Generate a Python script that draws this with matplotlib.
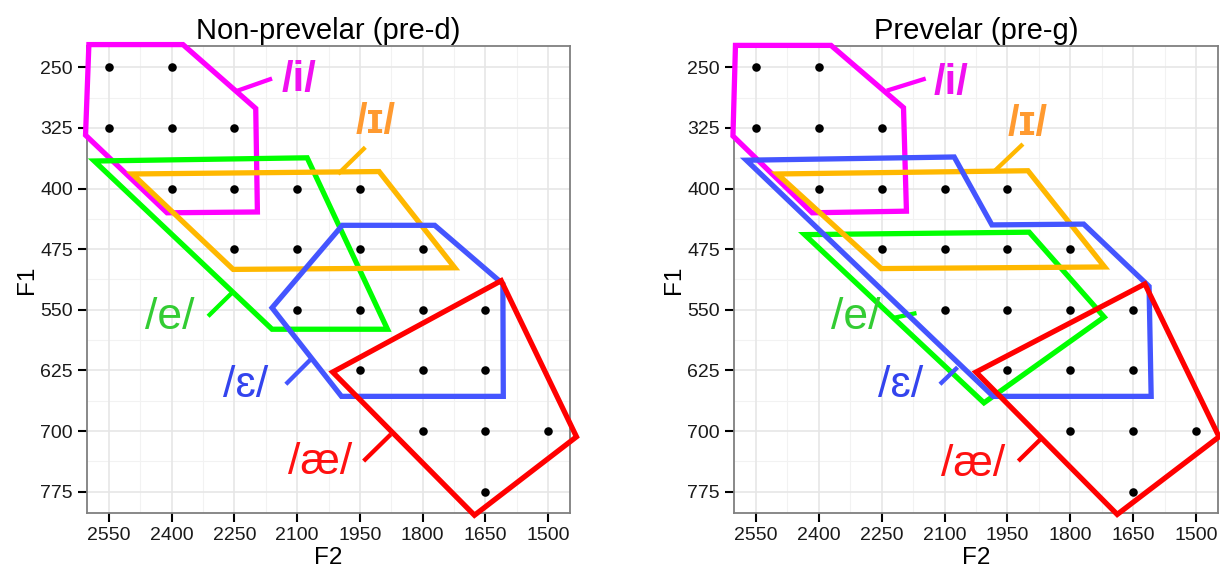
import matplotlib
matplotlib.use("Agg")
import matplotlib.pyplot as plt
from matplotlib.patches import Polygon

plt.rcParams['font.family'] = ['Liberation Sans', 'DejaVu Sans']

# ---------------- data ----------------
f2_ticks = [2550, 2400, 2250, 2100, 1950, 1800, 1650, 1500]
f1_ticks = [250, 325, 400, 475, 550, 625, 700, 775]

dot_f2 = [2550, 2400,
          2550, 2400, 2250,
          2400, 2250, 2100, 1950,
          2250, 2100, 1950, 1800,
          2100, 1950, 1800, 1650,
          1950, 1800, 1650,
          1800, 1650, 1500,
          1650]
dot_f1 = [250, 250,
          325, 325, 325,
          400, 400, 400, 400,
          475, 475, 475, 475,
          550, 550, 550, 550,
          625, 625, 625,
          700, 700, 700,
          775]

titles = ["Non-prevelar (pre-d)", "Prevelar (pre-g)"]
vowels = ["i", "e", "ɪ", "ɛ", "æ"]
vowel_labels = {"i": "/i/", "ɪ": "/ɪ/", "e": "/e/", "ɛ": "/ɛ/", "æ": "/æ/"}

# polygon vertices (F2, F1) per panel
left_i = [(2598, 222), (2373, 222), (2199, 301), (2195, 429), (2411, 430), (2606, 334)]
left_I = [(2494, 382), (1904, 379), (1723, 498), (2253, 500)]
left_e = [(2585, 366), (2076, 362), (1884, 574), (2160, 574)]
left_E = [(1992, 445.5), (1771, 445.5), (1608, 518), (1607, 657), (1994, 657), (2160, 547.5)]
left_ae = [(2015, 627), (1612, 514), (1432, 707), (1676, 804)]

right_i = [(2599, 223), (2371, 223), (2198, 300), (2191, 428), (2416, 430), (2605, 335)]
right_I = [(2499, 382), (1901, 378), (1718, 497), (2251, 499)]
right_e = [(2434, 457), (1898, 454), (1719, 559), (2006, 665)]
right_E = [(2573, 365), (2077, 361), (1987, 445), (1768, 444), (1612, 521), (1607, 657), (1984, 657)]
right_ae = [(2025, 627), (1622, 518), (1445, 707), (1688, 803)]

# label positions (F2, F1)
left_label_pos = {"i": (2095, 266), "ɪ": (1913, 318), "e": (2405, 560), "ɛ": (2222, 643), "æ": (2046, 739)}
right_label_pos = {"i": (2084, 270), "ɪ": (1901, 320), "e": (2312, 560), "ɛ": (2204, 644), "æ": (2031, 741)}

# leader lines ((F2a, F1a), (F2b, F1b))
left_leaders = {"i": ((2248, 280), (2160, 264)), "ɪ": ((2002, 382), (1937, 349)),
                "e": ((2313, 558), (2252, 527)), "ɛ": ((2127, 642), (2067, 611)),
                "æ": ((1941, 737), (1876, 704))}
right_leaders = {"i": ((2238, 279), (2145, 264)), "ɪ": ((1980, 378), (1913, 345)),
                 "e": ((2222, 560), (2167, 554)), "ɛ": ((2111, 642), (2069, 621)),
                 "æ": ((1924, 737), (1867, 708))}

poly_colors = {"i": "#FF00FF", "ɪ": "#FFB800", "e": "#00FF00", "ɛ": "#4455FF", "æ": "#FF0000"}
label_colors = {"i": "#F010F0", "ɪ": "#FF9A30", "e": "#33CC33", "ɛ": "#3344EE", "æ": "#FF1111"}
label_bold = {"i": True, "ɪ": True, "e": False, "ɛ": False, "æ": False}
label_size = {"i": 30, "ɪ": 30, "e": 32, "ɛ": 32, "æ": 32}

panels = [
    dict(title=titles[0], polys={"i": left_i, "e": left_e, "ɪ": left_I, "ɛ": left_E, "æ": left_ae},
         labels=left_label_pos, leaders=left_leaders),
    dict(title=titles[1], polys={"i": right_i, "e": right_e, "ɪ": right_I, "ɛ": right_E, "æ": right_ae},
         labels=right_label_pos, leaders=right_leaders),
]

# ---------------- figure ----------------
fig = plt.figure(figsize=(12.2, 5.7), dpi=100)
axes_rects = [[87 / 1220, 57 / 570, 483 / 1220, 467 / 570],
              [734 / 1220, 57 / 570, 484 / 1220, 467 / 570]]

minor_x = [2475, 2325, 2175, 2025, 1875, 1725, 1575]
minor_y = [287.5, 362.5, 437.5, 512.5, 587.5, 662.5, 737.5]

for rect, p in zip(axes_rects, panels):
    ax = fig.add_axes(rect)
    ax.set_xlim(2602.5, 1447.5)
    ax.set_ylim(801.25, 223.75)
    ax.set_xticks(f2_ticks)
    ax.set_yticks(f1_ticks)
    ax.set_xticklabels([str(t) for t in f2_ticks])
    ax.set_yticklabels([str(t) for t in f1_ticks])
    for v in minor_x:
        ax.axvline(v, color="#F2F2F2", lw=0.8, zorder=0)
    for v in minor_y:
        ax.axhline(v, color="#F2F2F2", lw=0.8, zorder=0)
    for v in f2_ticks:
        ax.axvline(v, color="#E6E6E6", lw=1.2, zorder=0)
    for v in f1_ticks:
        ax.axhline(v, color="#E6E6E6", lw=1.2, zorder=0)
    for s in ax.spines.values():
        s.set_color("#7F7F7F")
        s.set_linewidth(1.3)
    ax.tick_params(axis="both", length=6.5, width=1.5, color="black", labelsize=14,
                   labelcolor="#1A1A1A", pad=3.5)
    ax.set_xlabel("F2", fontsize=17.5, labelpad=2.5)
    ax.set_ylabel("F1", fontsize=17.5, labelpad=2)
    ax.set_title(p["title"], fontsize=21, pad=5)

    ax.scatter(dot_f2, dot_f1, s=38, color="black", zorder=3, linewidths=0)

    for k, v in enumerate(["i", "e", "ɪ", "ɛ", "æ"]):
        poly = Polygon(p["polys"][v], closed=True, fill=False, edgecolor=poly_colors[v],
                       lw=3.8, joinstyle="miter", clip_on=False, zorder=4 + k)
        ax.add_patch(poly)
        (xa, ya), (xb, yb) = p["leaders"][v]
        ax.plot([xa, xb], [ya, yb], color=poly_colors[v], lw=3.1, solid_capstyle="butt",
                clip_on=False, zorder=4 + k)
        lx, ly = p["labels"][v]
        ax.text(lx, ly, vowel_labels[v], color=label_colors[v], fontsize=label_size[v],
                fontweight="bold" if label_bold[v] else "normal",
                ha="center", va="center", zorder=10,
                family=["Liberation Sans", "DejaVu Sans"])

fig.savefig("out.png", dpi=100)
